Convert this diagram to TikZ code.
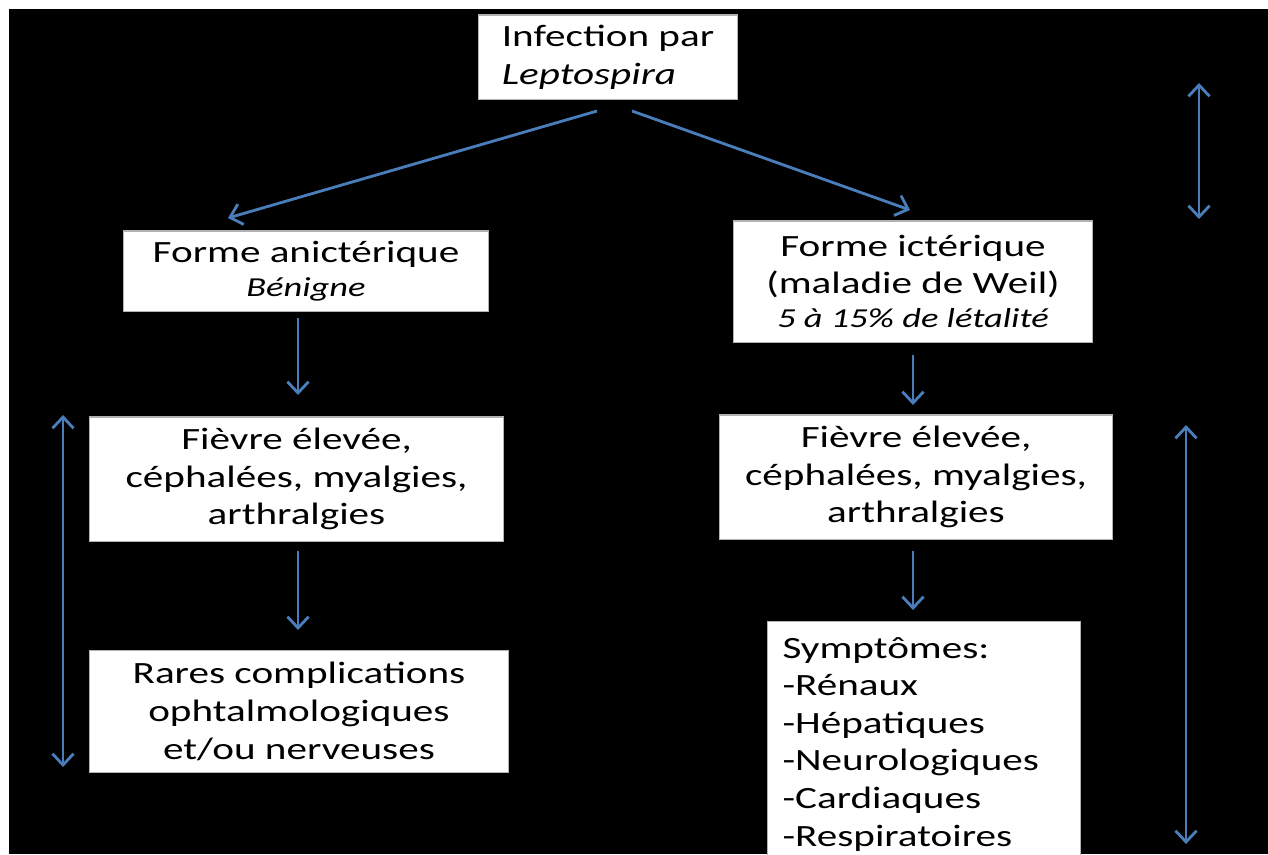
\documentclass[tikz,border=0pt]{standalone}
\usepackage{fontspec}
\setmainfont{Carlito}[FakeStretch=1.33]
\usetikzlibrary{arrows.meta}
\definecolor{arrowblue}{HTML}{4A7EBB}
\begin{document}
\begin{tikzpicture}[x=0.01cm,y=-0.01cm,
  box/.style={draw=gray!60, line width=0.3pt, fill=white, inner sep=0pt, align=center, font=\fontsize{8.8}{10.7}\selectfont},
  conn/.style={draw=arrowblue, line width=0.8pt, -{Straight Barb[length=3.2pt,width=6pt]}},
  dbl/.style={draw=arrowblue, line width=0.8pt, {Straight Barb[length=3.2pt,width=6pt]}-{Straight Barb[length=3.2pt,width=6pt]}}]
\useasboundingbox (0,0) rectangle (1268,854);
\clip (0,0) rectangle (1268,854);
\fill[black] (9,9) rectangle (1268,854);

\node[box, minimum width=2.58cm, minimum height=0.84cm, align=left] (top) at (608,57)
  {Infection par\\ \textit{Leptospira}};
\node[box, minimum width=3.64cm, minimum height=0.80cm] (anic) at (306,271)
  {Forme anictérique\\[-1pt] {\fontsize{7.8}{9}\selectfont\itshape Bénigne}};
\node[box, minimum width=3.58cm, minimum height=1.21cm] (ict) at (913,281.5)
  {Forme ictérique\\ (maladie de Weil)\\[-1pt] {\fontsize{7.8}{9}\selectfont\itshape 5 à 15\% de létalité}};
\node[box, minimum width=4.13cm, minimum height=1.24cm] (fl) at (296.5,479)
  {Fièvre élevée,\\ céphalées, myalgies,\\ arthralgies};
\node[box, minimum width=3.92cm, minimum height=1.24cm] (fr) at (916,477)
  {Fièvre élevée,\\ céphalées, myalgies,\\ arthralgies};
\node[box, minimum width=4.18cm, minimum height=1.22cm] (rares) at (299,711.5)
  {Rares complications\\ ophtalmologiques\\ et/ou nerveuses};
\node[box, anchor=north west, minimum width=3.13cm, minimum height=2.45cm, align=left, text width=2.83cm] (symp) at (767,621)
  {Symptômes:\\ -Rénaux\\ -Hépatiques\\ -Neurologiques\\ -Cardiaques\\ -Respiratoires};

\coordinate (t1) at (597,111);
\coordinate (t2) at (632,111);
\coordinate (a1) at (228,218);
\coordinate (a2) at (910,210);
\draw[conn] (t1) -- (a1);
\draw[conn] (t2) -- (a2);

\coordinate (l1s) at (298,318);
\coordinate (l1e) at (298,395);
\coordinate (l2s) at (298,551);
\coordinate (l2e) at (298,630);
\draw[conn] (l1s) -- (l1e);
\draw[conn] (l2s) -- (l2e);

\coordinate (r1s) at (913,355);
\coordinate (r1e) at (913,405);
\coordinate (r2s) at (913,551);
\coordinate (r2e) at (913,610);
\draw[conn] (r1s) -- (r1e);
\draw[conn] (r2s) -- (r2e);

\coordinate (v1a) at (1199,83);
\coordinate (v1b) at (1199,219);
\draw[dbl] (v1a) -- (v1b);
\coordinate (v2a) at (1186,425);
\coordinate (v2b) at (1186,844);
\draw[dbl] (v2a) -- (v2b);
\coordinate (v3a) at (63,415);
\coordinate (v3b) at (63,767);
\draw[dbl] (v3a) -- (v3b);
\end{tikzpicture}
\end{document}
